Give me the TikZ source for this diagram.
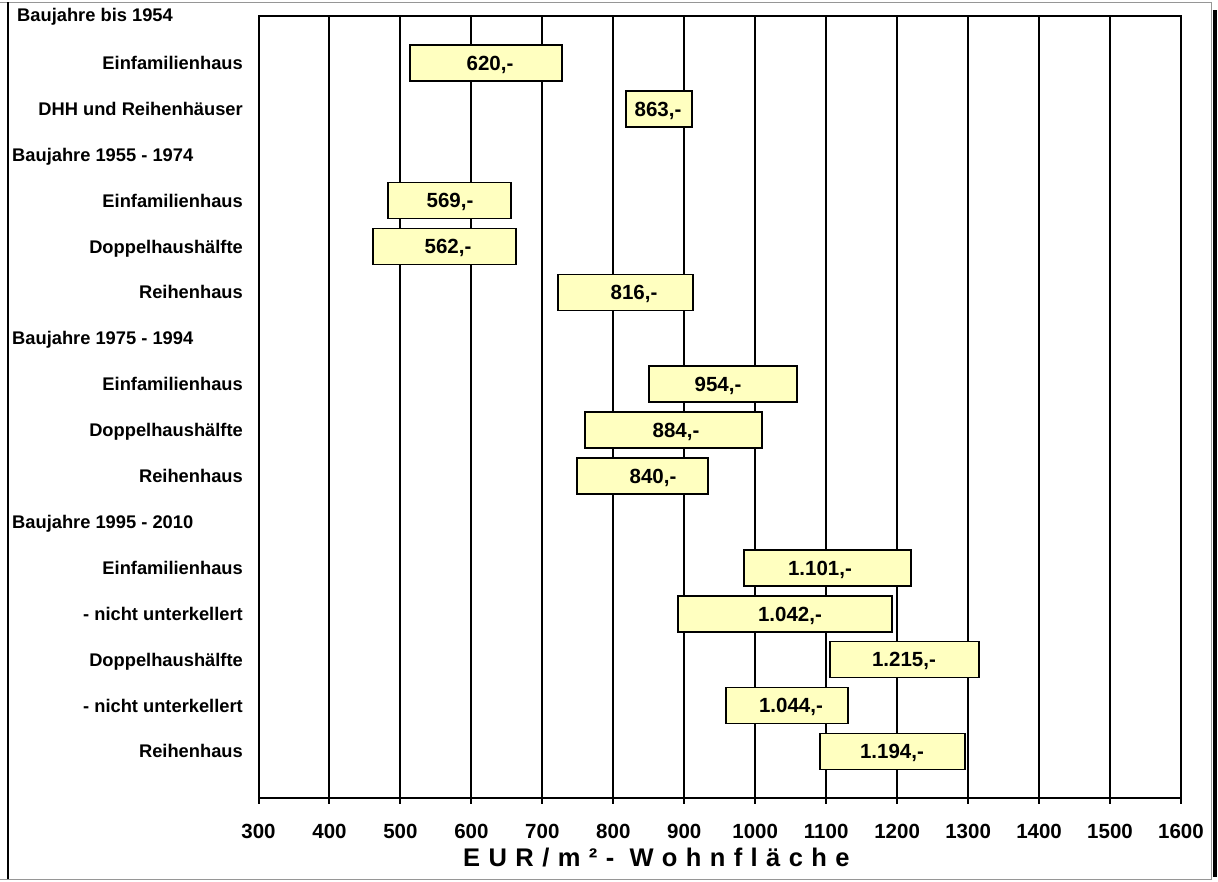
\documentclass[tikz,border=0pt]{standalone}
\usepackage{fontspec}
\setmainfont{Liberation Sans}
\definecolor{barfill}{RGB}{255,255,192}
\definecolor{framegray}{RGB}{150,150,150}
\begin{document}
\begin{tikzpicture}[x=1pt,y=-1pt,
  lab/.style={anchor=east,inner sep=0pt,text height=13.1pt,text depth=0pt,font=\fontsize{18.3}{20}\selectfont\bfseries},
  hdr/.style={anchor=west,inner sep=0pt,text height=13.1pt,text depth=0pt,font=\fontsize{18.3}{20}\selectfont\bfseries},
  ticklab/.style={inner sep=0pt,text height=14.7pt,text depth=0pt,font=\fontsize{20.5}{22}\selectfont\bfseries},
  val/.style={inner sep=0pt,text height=14.7pt,text depth=0pt,font=\fontsize{20.5}{22}\selectfont\bfseries},
  barbox/.style={draw=black,line width=1.6pt,fill=barfill},
  gridline/.style={line width=2pt,line cap=butt},
  ttl/.style={anchor=west,inner sep=0pt,text height=18.3pt,text depth=0pt,font=\fontsize{25.5}{27}\selectfont\bfseries\addfontfeature{LetterSpace=33}}]
\useasboundingbox (0,0) rectangle (1218,881);
% outer frame
\draw[framegray,line width=1pt] (0,2.5) -- (1211,2.5) -- (1211,879) -- (0,879);
\draw[line width=2.5pt] (8,2) -- (8,879);
\fill[black] (1212.5,10) rectangle (1217,877);
% grid lines and ticks
\foreach \i in {1,...,12} {
  \draw[gridline] ({258.5+70.96*\i},16) -- ({258.5+70.96*\i},798);
}
\foreach \i in {0,...,13} {
  \draw[gridline] ({258.5+70.96*\i},798) -- ({258.5+70.96*\i},804);
}
% plot frame
\draw[line width=2pt] (258.5,16) rectangle (1181,798);
% tick labels
\foreach \v [count=\i from 0] in {300,400,500,600,700,800,900,1000,1100,1200,1300,1400,1500,1600} {
  \node[ticklab] (t\v) at ({258.5+70.96*\i},831) {\v};
}
\node[ttl] (title) at (463,857.5) {EUR/m²- Wohnfläche};
% category labels
\node[hdr] (h0) at (17,15) {Baujahre bis 1954};
\node[lab] (l1) at (243,{17+45.9*1}) {Einfamilienhaus};
\node[lab] (l2) at (243,{17+45.9*2}) {DHH und Reihenhäuser};
\node[hdr] (h3) at (12,{17+45.9*3}) {Baujahre 1955 - 1974};
\node[lab] (l4) at (243,{17+45.9*4}) {Einfamilienhaus};
\node[lab] (l5) at (243,{17+45.9*5}) {Doppelhaushälfte};
\node[lab] (l6) at (243,{17+45.9*6}) {Reihenhaus};
\node[hdr] (h7) at (12,{17+45.9*7}) {Baujahre 1975 - 1994};
\node[lab] (l8) at (243,{17+45.9*8}) {Einfamilienhaus};
\node[lab] (l9) at (243,{17+45.9*9}) {Doppelhaushälfte};
\node[lab] (l10) at (243,{17+45.9*10}) {Reihenhaus};
\node[hdr] (h11) at (12,{17+45.9*11}) {Baujahre 1995 - 2010};
\node[lab] (l12) at (243,{17+45.9*12}) {Einfamilienhaus};
\node[lab] (l13) at (243,{17+45.9*13}) {- nicht unterkellert};
\node[lab] (l14) at (243,{17+45.9*14}) {Doppelhaushälfte};
\node[lab] (l15) at (243,{17+45.9*15}) {- nicht unterkellert};
\node[lab] (l16) at (243,{17+45.9*16}) {Reihenhaus};
% bars
\foreach \l/\r/\tx/\row/\txt in {
  410/562/490/1/{620,-},
  626/692/658/2/{863,-},
  388/511/450/4/{569,-},
  373/516/448/5/{562,-},
  558/693/634/6/{816,-},
  649/797/718/8/{954,-},
  585/762/676/9/{884,-},
  577/708/653/10/{840,-},
  744/911/820/12/{1.101,-},
  678/892/790/13/{1.042,-},
  830/979/904/14/{1.215,-},
  726/848/791/15/{1.044,-},
  820/965/892/16/{1.194,-}} {
  \path[barbox] (\l,{17+45.9*\row-18}) rectangle (\r,{17+45.9*\row+18});
  \node[val] (v\row) at (\tx,{17+45.9*\row}) {\txt};
}
\end{tikzpicture}
\end{document}
